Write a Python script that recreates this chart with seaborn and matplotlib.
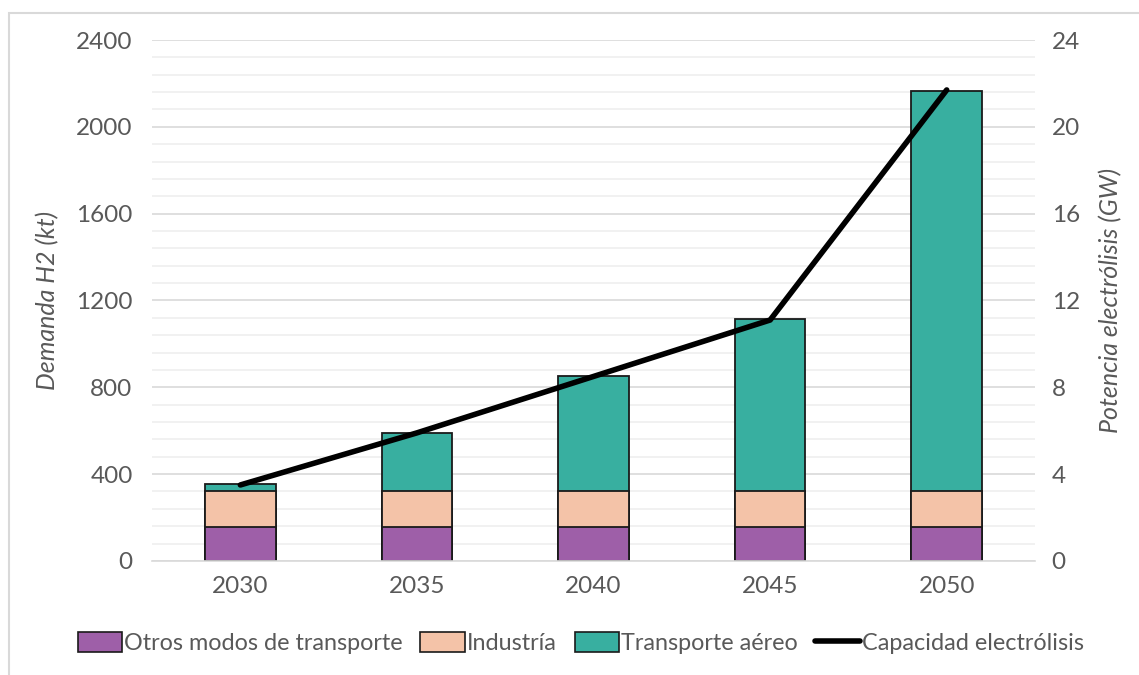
import numpy as np
import pandas as pd
import matplotlib
matplotlib.use("Agg")
import matplotlib.pyplot as plt
from matplotlib.patches import Patch, Rectangle
from matplotlib.lines import Line2D
from matplotlib.ticker import MultipleLocator
import seaborn as sns

years = ["2030", "2035", "2040", "2045", "2050"]
otros = [158, 158, 158, 158, 158]
industria = [162, 165, 165, 165, 165]
aereo = [36, 267, 529, 790, 1842]
capacidad = [3.5, 5.9, 8.5, 11.1, 21.7]

series_names = ["Otros modos de transporte", "Industría", "Transporte aéreo"]
line_name = "Capacidad electrólisis"
colors = ["#9E5FA8", "#F4C3A8", "#38AFA0"]

sns.set_theme(style="white")
plt.rcParams['font.family'] = ['Lato', 'DejaVu Sans']

df = pd.DataFrame({"year": years, "otros": otros, "industria": industria, "aereo": aereo})
df["c1"] = df["otros"]
df["c2"] = df["c1"] + df["industria"]
df["c3"] = df["c2"] + df["aereo"]

fig = plt.figure(figsize=(11.39, 6.75), dpi=100)
ax = fig.add_axes([0.1335, 0.169, 0.9087 - 0.1335, 0.9407 - 0.169])

tick_color = "#595959"

# gridlines
ax.set_ylim(0, 2400)
ax.yaxis.set_major_locator(MultipleLocator(400))
ax.yaxis.set_minor_locator(MultipleLocator(80))
ax.grid(which="major", axis="y", color="#D9D9D9", lw=1.2)
ax.grid(which="minor", axis="y", color="#EFEFEF", lw=1.2)
ax.set_axisbelow(True)

for col, c in zip(["c3", "c2", "c1"], colors[::-1]):
    sns.barplot(data=df, x="year", y=col, color=c, width=0.4, edgecolor="#1a1a1a",
                linewidth=1.3, saturation=1, ax=ax, zorder=2)

ax.set_xlim(-0.5, 4.5)
for s in ["top", "right", "left"]:
    ax.spines[s].set_visible(False)
ax.spines["bottom"].set_color("#D9D9D9")
ax.spines["bottom"].set_linewidth(1.2)
ax.tick_params(axis="both", which="both", length=0, colors=tick_color, labelsize=17.5)
ax.tick_params(axis="x", pad=11)
ax.tick_params(axis="y", pad=14)
ax.set_xlabel("")
ax.set_ylabel("Demanda H2 (kt)", fontsize=18, color=tick_color, style="italic", labelpad=12)

ax2 = ax.twinx()
ax2.set_ylim(0, 24)
ax2.yaxis.set_major_locator(MultipleLocator(4))
sns.lineplot(x=np.arange(len(years)), y=capacidad, color="black", lw=4, ax=ax2, zorder=5)
for s in ["top", "right", "left", "bottom"]:
    ax2.spines[s].set_visible(False)
ax2.tick_params(axis="y", length=0, colors=tick_color, labelsize=17.5, pad=12)
ax2.set_ylabel("Potencia electrólisis (GW)", fontsize=18, color=tick_color, style="italic", labelpad=14)
ax2.grid(False)
ax.set_xlim(-0.5, 4.5)

handles = [Patch(facecolor=c, edgecolor="#1a1a1a", linewidth=1.2) for c in colors]
handles.append(Line2D([0], [0], color="black", lw=4))
leg = fig.legend(handles, series_names + [line_name], loc="center", bbox_to_anchor=(0.51, 0.047),
                 ncol=4, frameon=False, fontsize=16.8, handlelength=1.9, handleheight=0.9,
                 handletextpad=0.1, columnspacing=0.75, labelcolor=tick_color)

fig.patches.append(Rectangle((9 / 1139, -0.1), 1.2, 1 - 13 / 675 + 0.1, transform=fig.transFigure,
                             fill=False, edgecolor="#D9D9D9", lw=1.5, zorder=0))

fig.savefig("out.png", dpi=100)
